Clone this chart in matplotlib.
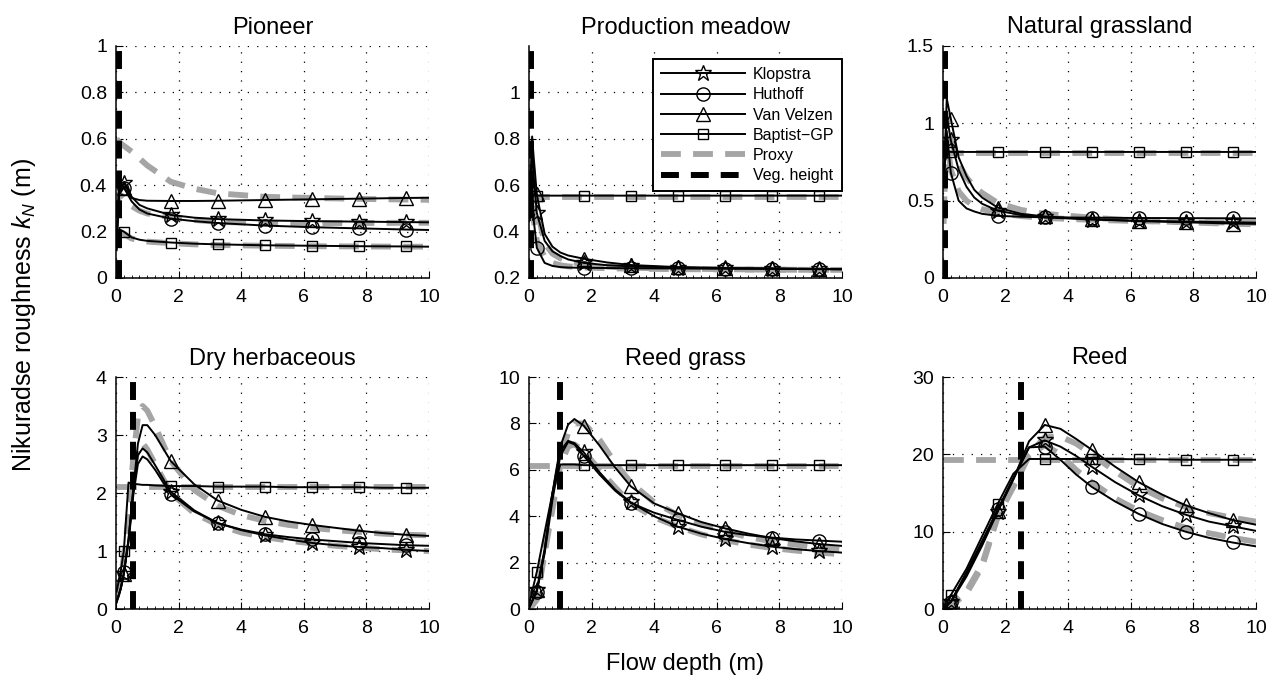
import numpy as np
import matplotlib
matplotlib.use('Agg')
import matplotlib.pyplot as plt
from matplotlib.ticker import MultipleLocator, FuncFormatter

plt.rcParams['font.family'] = ['Liberation Sans', 'DejaVu Sans']
plt.rcParams['mathtext.fontset'] = 'custom'
plt.rcParams['mathtext.rm'] = 'Liberation Sans'
plt.rcParams['mathtext.it'] = 'Liberation Sans:italic'

# ---- data ----
titles = ['Pioneer', 'Production meadow', 'Natural grassland',
          'Dry herbaceous', 'Reed grass', 'Reed']
veg_height = [0.1, 0.05, 0.06, 0.53, 0.99, 2.48]
ylims = [(0, 1), (0.2, 1.2), (0, 1.5), (0, 4), (0, 10), (0, 30)]
yticks = [[0, 0.2, 0.4, 0.6, 0.8, 1], [0.2, 0.4, 0.6, 0.8, 1], [0, 0.5, 1, 1.5],
          [0, 1, 2, 3, 4], [0, 2, 4, 6, 8, 10], [0, 10, 20, 30]]

# Pioneer
pio_x = [0.02, 0.1, 0.25, 0.5, 0.75, 1.0, 1.75, 2.5, 3.25, 4.75, 6.25, 7.75, 9.25, 10]
pio_mk = [2, 6, 8, 9, 10, 11, 12]
pio_klop = [0.15, 0.38, 0.41, 0.35, 0.315, 0.3, 0.272, 0.26, 0.254, 0.248, 0.245, 0.243, 0.241, 0.24]
pio_huth = [0.15, 0.36, 0.39, 0.33, 0.295, 0.278, 0.256, 0.245, 0.237, 0.226, 0.219, 0.214, 0.209, 0.207]
pio_velz = [0.15, 0.42, 0.39, 0.345, 0.336, 0.333, 0.332, 0.332, 0.333, 0.336, 0.339, 0.342, 0.345, 0.346]
pio_bapt = [0.12, 0.21, 0.2, 0.175, 0.165, 0.16, 0.153, 0.148, 0.145, 0.141, 0.139, 0.137, 0.136, 0.135]
pio_prox_v = [0.6, 0.585, 0.57, 0.545, 0.515, 0.485, 0.415, 0.385, 0.365, 0.35, 0.345, 0.341, 0.338, 0.337]
pio_prox_kh = [0.3, 0.36, 0.35, 0.31, 0.29, 0.278, 0.262, 0.25, 0.242, 0.236, 0.236, 0.237, 0.238, 0.238]
pio_prox_b = [0.2, 0.2, 0.19, 0.17, 0.162, 0.157, 0.15, 0.145, 0.142, 0.139, 0.137, 0.136, 0.135, 0.135]

# Production meadow
pm_x = [0.02, 0.1, 0.15, 0.25, 0.5, 0.75, 1.0, 1.25, 1.75, 2.5, 3.25, 4.75, 6.25, 7.75, 9.25, 10]
pm_mk = [3, 8, 10, 11, 12, 13, 14]
pm_klop = [0.45, 0.78, 0.64, 0.48, 0.36, 0.315, 0.295, 0.28, 0.265, 0.255, 0.25, 0.245, 0.242, 0.24, 0.238, 0.237]
pm_huth = [0.45, 0.62, 0.45, 0.33, 0.265, 0.252, 0.247, 0.245, 0.244, 0.243, 0.242, 0.241, 0.24, 0.24, 0.239, 0.239]
pm_velz = [0.5, 0.81, 0.72, 0.56, 0.39, 0.335, 0.31, 0.297, 0.283, 0.267, 0.256, 0.247, 0.243, 0.241, 0.239, 0.238]
pm_bapt = [0.5, 0.56, 0.556, 0.555, 0.555, 0.555, 0.555, 0.555, 0.555, 0.555, 0.555, 0.555, 0.555, 0.555, 0.555, 0.555]
pm_prox_v = [0.62, 0.68, 0.6, 0.5, 0.35, 0.305, 0.285, 0.272, 0.258, 0.249, 0.244, 0.24, 0.238, 0.236, 0.235, 0.235]
pm_prox_kh = [0.55, 0.6, 0.45, 0.36, 0.29, 0.265, 0.255, 0.25, 0.245, 0.242, 0.24, 0.238, 0.237, 0.236, 0.235, 0.235]
pm_prox_b = [0.55, 0.55, 0.55, 0.55, 0.55, 0.55, 0.55, 0.55, 0.55, 0.55, 0.55, 0.55, 0.55, 0.55, 0.55, 0.55]

# Natural grassland
ng_x = [0.02, 0.12, 0.25, 0.5, 0.75, 1.0, 1.25, 1.75, 2.5, 3.25, 4.75, 6.25, 7.75, 9.25, 10]
ng_mk = [2, 7, 9, 10, 11, 12, 13]
ng_klop = [0.6, 1.05, 0.89, 0.7, 0.59, 0.52, 0.48, 0.435, 0.407, 0.392, 0.378, 0.37, 0.365, 0.36, 0.358]
ng_huth = [0.6, 0.95, 0.68, 0.5, 0.45, 0.43, 0.415, 0.402, 0.396, 0.392, 0.39, 0.388, 0.387, 0.386, 0.385]
ng_velz = [0.6, 1.16, 1.03, 0.78, 0.66, 0.57, 0.52, 0.455, 0.415, 0.398, 0.38, 0.368, 0.36, 0.352, 0.35]
ng_bapt = [0.7, 0.82, 0.815, 0.815, 0.815, 0.815, 0.815, 0.815, 0.815, 0.815, 0.815, 0.815, 0.815, 0.815, 0.815]
ng_prox_v = [0.35, 1.05, 0.9, 0.74, 0.65, 0.59, 0.55, 0.485, 0.44, 0.415, 0.39, 0.37, 0.36, 0.35, 0.347]
ng_prox_kh = [0.4, 0.9, 0.7, 0.56, 0.5, 0.465, 0.445, 0.42, 0.4, 0.388, 0.376, 0.368, 0.362, 0.358, 0.356]
ng_prox_b = [0.81, 0.81, 0.81, 0.81, 0.81, 0.81, 0.81, 0.81, 0.81, 0.81, 0.81, 0.81, 0.81, 0.81, 0.81]

# Dry herbaceous
dh_x = [0.02, 0.15, 0.25, 0.4, 0.55, 0.7, 0.85, 1.0, 1.25, 1.75, 2.5, 3.25, 4.0, 4.75, 5.5, 6.25, 7.0, 7.75, 8.5, 9.25, 10]
dh_mk = [2, 9, 11, 13, 15, 17, 19]
dh_klop = [0.12, 0.35, 0.6, 1.2, 2.05, 2.65, 2.77, 2.7, 2.48, 2.02, 1.7, 1.48, 1.36, 1.27, 1.2, 1.14, 1.1, 1.07, 1.05, 1.02, 1.0]
dh_huth = [0.12, 0.35, 0.63, 1.15, 1.95, 2.5, 2.63, 2.58, 2.4, 1.98, 1.68, 1.48, 1.37, 1.29, 1.24, 1.2, 1.17, 1.14, 1.12, 1.1, 1.09]
dh_velz = [0.12, 0.35, 0.6, 1.2, 2.05, 2.85, 3.17, 3.17, 3.0, 2.55, 2.15, 1.87, 1.71, 1.59, 1.51, 1.45, 1.4, 1.35, 1.31, 1.28, 1.26]
dh_bapt = [0.3, 0.65, 1.0, 2.18, 2.16, 2.15, 2.14, 2.14, 2.13, 2.12, 2.12, 2.11, 2.11, 2.11, 2.1, 2.1, 2.1, 2.1, 2.09, 2.09, 2.09]
dh_prox_v = [0.2, 0.5, 0.9, 1.6, 2.6, 3.3, 3.5, 3.42, 3.15, 2.55, 2.05, 1.78, 1.62, 1.52, 1.45, 1.4, 1.36, 1.33, 1.3, 1.28, 1.27]
dh_prox_kh = [0.2, 0.5, 0.85, 1.5, 2.35, 2.8, 2.86, 2.75, 2.5, 2.0, 1.65, 1.45, 1.32, 1.24, 1.18, 1.13, 1.09, 1.06, 1.03, 1.01, 1.0]
dh_prox_b = [2.1, 2.1, 2.1, 2.1, 2.1, 2.1, 2.1, 2.1, 2.1, 2.1, 2.1, 2.1, 2.1, 2.1, 2.1, 2.1, 2.1, 2.1, 2.1, 2.1, 2.1]

# Reed grass
rg_x = [0.02, 0.25, 0.5, 0.75, 1.0, 1.25, 1.45, 1.75, 2.25, 2.75, 3.25, 4.0, 4.75, 5.5, 6.25, 7.0, 7.75, 8.5, 9.25, 10]
rg_mk = [1, 7, 10, 12, 14, 16, 18]
rg_klop = [0.1, 0.8, 2.6, 5.0, 6.8, 7.25, 7.15, 6.75, 5.9, 5.15, 4.6, 4.0, 3.55, 3.25, 3.02, 2.84, 2.69, 2.58, 2.5, 2.43]
rg_huth = [0.1, 0.75, 2.4, 4.7, 6.6, 7.2, 7.1, 6.6, 5.8, 5.1, 4.57, 4.15, 3.84, 3.55, 3.33, 3.18, 3.08, 3.0, 2.95, 2.9]
rg_velz = [0.1, 0.8, 2.5, 5.0, 7.0, 7.95, 8.19, 7.9, 7.05, 6.1, 5.29, 4.55, 4.13, 3.75, 3.48, 3.25, 3.06, 2.92, 2.8, 2.72]
rg_bapt = [0.3, 1.6, 3.3, 5.0, 6.23, 6.23, 6.23, 6.2, 6.2, 6.2, 6.2, 6.2, 6.2, 6.2, 6.2, 6.2, 6.2, 6.2, 6.2, 6.2]
rg_prox_v = [0.0, 0.5, 2.6, 4.5, 6.5, 7.6, 8.0, 8.0, 7.3, 6.3, 5.45, 4.6, 4.05, 3.65, 3.35, 3.1, 2.92, 2.78, 2.65, 2.55]
rg_prox_kh = [0.0, 0.4, 2.4, 4.3, 6.2, 7.0, 7.1, 6.8, 6.0, 5.25, 4.55, 3.95, 3.55, 3.22, 2.97, 2.78, 2.63, 2.52, 2.43, 2.36]
rg_prox_b = [6.15, 6.15, 6.15, 6.15, 6.15, 6.15, 6.15, 6.15, 6.15, 6.15, 6.15, 6.15, 6.15, 6.15, 6.15, 6.15, 6.15, 6.15, 6.15, 6.15]

# Reed
rd_x = [0.02, 0.25, 0.75, 1.25, 1.75, 2.25, 2.75, 3.25, 3.75, 4.25, 4.75, 5.5, 6.25, 7.0, 7.75, 8.5, 9.25, 10]
rd_mk = [1, 4, 7, 10, 12, 14, 16]
rd_klop = [0.1, 0.9, 4.2, 8.2, 12.6, 16.8, 20.9, 21.8, 21.0, 19.8, 18.4, 16.4, 14.7, 13.3, 12.2, 11.3, 10.7, 10.1]
rd_huth = [0.1, 0.9, 4.8, 8.8, 12.9, 17.0, 20.9, 21.0, 19.3, 17.4, 15.8, 13.9, 12.3, 11.0, 10.0, 9.2, 8.6, 8.1]
rd_velz = [0.1, 1.0, 4.5, 8.5, 12.7, 16.8, 21.7, 23.8, 23.3, 22.0, 20.6, 18.4, 16.4, 14.8, 13.4, 12.4, 11.5, 10.9]
rd_bapt = [0.3, 1.8, 5.2, 9.4, 13.6, 17.5, 19.4, 19.4, 19.4, 19.4, 19.4, 19.4, 19.35, 19.35, 19.3, 19.3, 19.3, 19.3]
rd_prox_v = [0.0, 0.5, 2.3, 5.8, 12.0, 16.0, 20.0, 22.2, 22.3, 21.4, 20.0, 17.8, 15.8, 14.3, 13.2, 12.4, 11.8, 11.3]
rd_prox_kh = [0.0, 0.4, 2.0, 5.5, 12.0, 15.8, 19.8, 21.2, 20.0, 18.0, 16.4, 14.3, 12.7, 11.5, 10.5, 9.8, 9.2, 8.7]
rd_prox_b = [19.3, 19.3, 19.3, 19.3, 19.3, 19.3, 19.3, 19.3, 19.3, 19.3, 19.3, 19.3, 19.3, 19.3, 19.3, 19.3, 19.3, 19.3]

panels = [
    (pio_x, pio_mk, pio_klop, pio_huth, pio_velz, pio_bapt, [pio_prox_v, pio_prox_kh, pio_prox_b]),
    (pm_x, pm_mk, pm_klop, pm_huth, pm_velz, pm_bapt, [pm_prox_v, pm_prox_kh, pm_prox_b]),
    (ng_x, ng_mk, ng_klop, ng_huth, ng_velz, ng_bapt, [ng_prox_v, ng_prox_kh, ng_prox_b]),
    (dh_x, dh_mk, dh_klop, dh_huth, dh_velz, dh_bapt, [dh_prox_v, dh_prox_kh, dh_prox_b]),
    (rg_x, rg_mk, rg_klop, rg_huth, rg_velz, rg_bapt, [rg_prox_v, rg_prox_kh, rg_prox_b]),
    (rd_x, rd_mk, rd_klop, rd_huth, rd_velz, rd_bapt, [rd_prox_v, rd_prox_kh, rd_prox_b]),
]

W, H = 1278, 684
lefts = [116, 529, 943]
tops = [46, 377]
aw, ah = 313, 232

fig = plt.figure(figsize=(W / 100, H / 100), dpi=100)
grey = '#a5a5a5'
fmt = FuncFormatter(lambda v, p: '{:g}'.format(v))

for i, (x, mk, klop, huth, velz, bapt, proxies) in enumerate(panels):
    l = lefts[i % 3]
    t = tops[i // 3]
    ax = fig.add_axes([l / W, 1 - (t + ah) / H, aw / W, ah / H])

    for pr in proxies:
        ax.plot(x, pr, color=grey, lw=4.2, dashes=(3.4, 2.1), zorder=2,
                label='Proxy' if pr is proxies[0] else None)

    style = dict(color='black', lw=1.4, mfc='none', mec='black', mew=1.0, markevery=mk, zorder=3)
    ax.plot(x, klop, marker='*', ms=12, label='Klopstra', **style)
    ax.plot(x, huth, marker='o', ms=9.5, label='Huthoff', **style)
    ax.plot(x, velz, marker='^', ms=10, label='Van Velzen', **style)
    ax.plot(x, bapt, marker='s', ms=7.5, label='Baptist\u2212GP', **style)

    ax.axvline(veg_height[i], color='black', lw=4.3, dashes=(3.0, 2.0), zorder=4,
               label='Veg. height')

    ax.set_xlim(0, 10)
    ax.set_ylim(*ylims[i])
    ax.set_xticks(range(0, 11, 2))
    ax.set_yticks(yticks[i])
    ax.xaxis.set_minor_locator(MultipleLocator(0.25))
    ax.yaxis.set_major_formatter(fmt)
    ax.grid(True, which='major', linestyle=(0, (1, 6.5)), color='black', lw=0.9)
    for s in ['top', 'right']:
        ax.spines[s].set_visible(False)
    for s in ['left', 'bottom']:
        ax.spines[s].set_linewidth(1.1)
    ax.tick_params(which='both', direction='in', top=False, right=False, labelsize=14)
    ax.tick_params(which='major', length=5)
    ax.tick_params(which='minor', length=2.5)
    ax.tick_params(axis='x', pad=8)
    ax.tick_params(axis='y', pad=6.5)
    ax.set_title(titles[i], fontsize=17, pad=9)

    if i == 1:
        h, lab = ax.get_legend_handles_labels()
        order = ['Klopstra', 'Huthoff', 'Van Velzen', 'Baptist\u2212GP', 'Proxy', 'Veg. height']
        hd = dict(zip(lab, h))
        leg = ax.legend([hd[k] for k in order], order, loc='upper right',
                        bbox_to_anchor=(1.0, 1 - 13 / ah), borderaxespad=0,
                        fontsize=11.5, handlelength=5.3, handletextpad=0.45,
                        fancybox=False, edgecolor='black', framealpha=1,
                        labelspacing=0.33, borderpad=0.5)
        leg.get_frame().set_linewidth(1.4)
        leg.set_zorder(10)

fig.text(685 / W, 1 - 664 / H, 'Flow depth (m)', ha='center', va='center', fontsize=17)
fig.text(24 / W, 1 - 315 / H, r'Nikuradse roughness $k_N$ (m)', ha='center', va='center',
         rotation=90, fontsize=18)

fig.savefig('out.png', dpi=100)
